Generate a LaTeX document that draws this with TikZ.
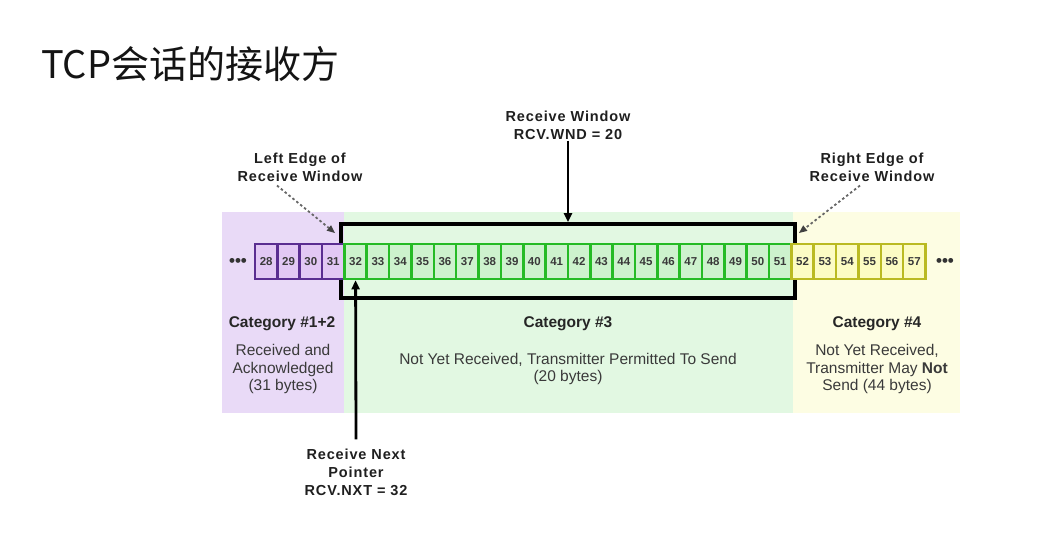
\documentclass[tikz,border=0pt]{standalone}
\usepackage{fontspec}
\setmainfont{Liberation Sans}
\newfontfamily\cjk{Noto Sans CJK SC}
\newfontfamily\lblfont{Liberation Sans}[LetterSpace=6]
\usetikzlibrary{arrows.meta}
\definecolor{bgpurple}{HTML}{E9DAF7}
\definecolor{bggreen}{HTML}{E2F8E2}
\definecolor{bgyellow}{HTML}{FDFDE3}
\definecolor{pdark}{HTML}{5A2D91}
\definecolor{pfill}{HTML}{E2C8F4}
\definecolor{gdark}{HTML}{25BB25}
\definecolor{gfill}{HTML}{CDF2CD}
\definecolor{ydark}{HTML}{BABA22}
\definecolor{yfill}{HTML}{FCFCC4}
\definecolor{txt}{HTML}{3A3A3A}
\tikzset{
  cell/.style={draw, line width=2.6pt, minimum width=22.35pt, minimum height=35pt, inner sep=0pt,
    font=\fontsize{11.5}{12}\selectfont\bfseries, text=txt},
  pcell/.style={cell, draw=pdark, fill=pfill},
  gcell/.style={cell, draw=gdark, fill=gfill},
  ycell/.style={cell, draw=ydark, fill=yfill},
  lbl/.style={align=center, inner sep=1pt, font=\lblfont\bfseries\fontsize{14.5}{18}\selectfont, text=black!88},
  cattitle/.style={inner sep=1pt, font=\bfseries\fontsize{15.5}{18}\selectfont, text=black!85},
  catbody/.style={align=center, inner sep=1pt, font=\fontsize{15.5}{17.5}\selectfont, text=txt},
  arr/.style={line width=2.8pt, -{Triangle[length=9pt,width=8pt]}},
  dotarr/.style={draw=black!60, line width=1.8pt, dash pattern=on 2.5pt off 2.5pt,
    -{Triangle[length=8pt,width=7pt,fill=black!75,line width=0pt]}},
  dots/.style={inner sep=0pt, font=\fontsize{17}{17}\selectfont\bfseries, text=black!80}
}
\begin{document}
\begin{tikzpicture}[x=1pt,y=-1pt]
\useasboundingbox (0,0) rectangle (1057,540);
\fill[white] (0,0) rectangle (1057,540);
% title
\node[anchor=west, inner sep=0pt, font=\cjk\fontsize{38}{42}\selectfont, text=black!92] (title) at (41,64) {TCP会话的接收方};
% category backgrounds
\fill[bgpurple] (222,212) rectangle (344.4,413);
\fill[bggreen] (344.4,212) rectangle (792.5,413);
\fill[bgyellow] (792.5,212) rectangle (960,413);
% window
\node[draw, line width=3.6pt, minimum width=454pt, minimum height=74pt, inner sep=0pt] (win) at (568,261) {};
% cells
\foreach \n in {28,...,31} \node[pcell] (c\n) at ({255+(\n-28+0.5)*22.35},261.5) {\n};
\foreach \n in {32,...,51} \node[gcell] (c\n) at ({255+(\n-28+0.5)*22.35},261.5) {\n};
\foreach \n in {52,...,57} \node[ycell] (c\n) at ({255+(\n-28+0.5)*22.35},261.5) {\n};
\node[dots] (dl) at (238,262) {•••};
\node[dots] (dr) at (945,262) {•••};
% categories
\node[cattitle] (t12) at (282,324) {Category \#1+2};
\node[catbody] (b12) at (283,369) {Received and\\Acknowledged\\(31 bytes)};
\node[cattitle] (t3) at (568,324) {Category \#3};
\node[catbody] (b3) at (568,369) {Not Yet Received, Transmitter Permitted To Send\\(20 bytes)};
\node[cattitle] (t4) at (877,324) {Category \#4};
\node[catbody] (b4) at (877,369) {Not Yet Received,\\Transmitter May \textbf{Not}\\Send (44 bytes)};
% labels and arrows
\node[lbl] (rw) at (568,125) {Receive Window\\RCV.WND = 20};
\draw[arr] (rw.south) -- (win.north);
\node[lbl] (le) at (300,167) {Left Edge of\\Receive Window};
\coordinate (leT) at (335,233);
\draw[dotarr] ([xshift=-23pt,yshift=-3pt]le.south) -- (leT);
\node[lbl] (re) at (872,167) {Right Edge of\\Receive Window};
\coordinate (reT) at (799,233);
\draw[dotarr] ([xshift=-12pt,yshift=-3pt]re.south) -- (reT);
\node[lbl] (rn) at (356,472) {Receive Next\\Pointer\\RCV.NXT = 32};
\draw[arr] ([yshift=8pt]rn.north) -- (c32.south);
\end{tikzpicture}
\end{document}
